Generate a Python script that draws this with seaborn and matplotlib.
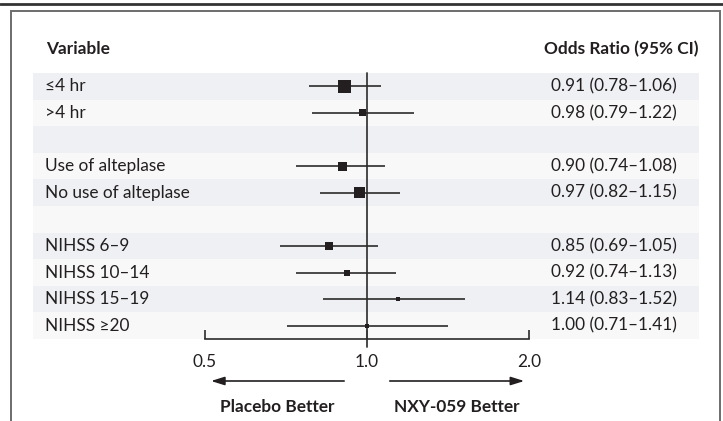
import numpy as np
import pandas as pd
import matplotlib
matplotlib.use("Agg")
import matplotlib.pyplot as plt
from matplotlib.patches import Rectangle
from matplotlib.lines import Line2D
import matplotlib.transforms as mtransforms
import seaborn as sns

# subgroup labels, grouped (a blank row separates the groups)
groups = [
    ["\u22644 hr", ">4 hr"],
    ["Use of alteplase", "No use of alteplase"],
    ["NIHSS 6\u20139", "NIHSS 10\u201314", "NIHSS 15\u201319", "NIHSS \u226520"],
]
odds_ratio = [0.91, 0.98, 0.90, 0.97, 0.85, 0.92, 1.14, 1.00]
ci_low = [0.78, 0.79, 0.74, 0.82, 0.69, 0.74, 0.83, 0.71]
ci_high = [1.06, 1.22, 1.08, 1.15, 1.05, 1.13, 1.52, 1.41]
# square side in pixels (weight of subgroup)
box_px = [13, 7, 9, 11, 8, 6, 4, 4]
x_ticks = [0.5, 1.0, 2.0]
x_tick_labels = ["0.5", "1.0", "2.0"]

# row index for each subgroup, with one empty row between groups
rows = []
labels = []
r = 0
for g in groups:
    for lab in g:
        rows.append(r)
        labels.append(lab)
        r += 1
    r += 1
n_rows = r - 1

df = pd.DataFrame({
    "label": labels,
    "row": rows,
    "or": odds_ratio,
    "lo": ci_low,
    "hi": ci_high,
    "size": [(p * 0.72) ** 2 for p in box_px],
})

sns.set_style("white")
plt.rcParams["font.family"] = ["Lato", "DejaVu Sans"]
txt = "#231f20"
fs = 12.4

W, H = 723, 421
fig = plt.figure(figsize=(W / 100, H / 100), dpi=100)

# plot area in pixel terms
left_px, right_px = 33, 699
top_px, bot_px = 73, 339
ax = fig.add_axes([left_px / W, 1 - bot_px / H, (right_px - left_px) / W, (bot_px - top_px) / H])

# log scale: 0.5 -> 204 px, 2.0 -> 529 px
ppd = (529 - 204) / 2.0
x1 = 367
ax.set_xscale("log")
ax.set_xlim(2 ** ((left_px - x1) / ppd), 2 ** ((right_px - x1) / ppd))
ax.set_ylim(n_rows - 0.5, -0.5)

# striped background
for i in range(n_rows):
    ax.axhspan(i - 0.5, i + 0.5, color="#eef0f3" if i % 2 == 0 else "#f8f8f8", lw=0, zorder=0)

# reference line at 1.0 (runs a bit below the axis)
ax.axvline(1.0, ymin=-0.03, ymax=1, color="#3a3a3a", lw=1.3, clip_on=False, zorder=2)

# confidence intervals
ax.hlines(df["row"], df["lo"], df["hi"], color="#2b2b2b", lw=1.2, zorder=3)

# point estimates
sns.scatterplot(data=df, x="or", y="row", size="size", sizes={s: s for s in df["size"]},
                marker="s", color="#231f20", edgecolor="none", legend=False, ax=ax, zorder=4)

# labels on the rows
rowtf = mtransforms.blended_transform_factory(ax.transAxes, ax.transData)
for _, d in df.iterrows():
    ax.text(12 / (right_px - left_px), d["row"], d["label"], transform=rowtf,
            ha="left", va="center", fontsize=fs, color=txt)
    ax.text((677 - left_px) / (right_px - left_px), d["row"],
            f"{d['or']:.2f} ({d['lo']:.2f}\u2013{d['hi']:.2f})", transform=rowtf,
            ha="right", va="center", fontsize=fs, color=txt)

# headers
fig.text(46 / W, 1 - 49 / H, "Variable", ha="left", va="center", fontsize=fs, fontweight="bold", color=txt)
fig.text(698 / W, 1 - 49 / H, "Odds Ratio (95% CI)", ha="right", va="center", fontsize=fs,
         fontweight="bold", color=txt)

# x axis as a bracket from 0.5 to 2.0
for s in ["top", "left", "right"]:
    ax.spines[s].set_visible(False)
ax.spines["bottom"].set_bounds(0.5, 2.0)
ax.spines["bottom"].set_color("#2b2b2b")
ax.spines["bottom"].set_linewidth(1.2)
ax.set_xticks(x_ticks)
ax.set_xticklabels(x_tick_labels)
ax.xaxis.set_minor_locator(matplotlib.ticker.NullLocator())
ax.tick_params(axis="x", direction="in", length=6.5, width=1.2, color="#2b2b2b", pad=11,
               labelsize=fs, labelcolor=txt, bottom=True)
ax.set_yticks([])
ax.set_xlabel("")
ax.set_ylabel("")

# direction arrows and captions
bt = mtransforms.blended_transform_factory(ax.transData, ax.transAxes)
arrow_y = (bot_px - 381) / (bot_px - top_px)
ax.annotate("", xy=(0.508, arrow_y), xytext=(0.918, arrow_y), xycoords=bt, textcoords=bt,
            arrowprops=dict(arrowstyle="-|>,head_length=0.8,head_width=0.25", color="#231f20", lw=1.2),
            annotation_clip=False)
ax.annotate("", xy=(1.979, arrow_y), xytext=(1.089, arrow_y), xycoords=bt, textcoords=bt,
            arrowprops=dict(arrowstyle="-|>,head_length=0.8,head_width=0.25", color="#231f20", lw=1.2),
            annotation_clip=False)
cap_y = (bot_px - 407) / (bot_px - top_px)
ax.text(0.681, cap_y, "Placebo Better", transform=bt, ha="center", va="center",
        fontsize=fs, fontweight="bold", color=txt)
ax.text(1.468, cap_y, "NXY-059 Better", transform=bt, ha="center", va="center",
        fontsize=fs, fontweight="bold", color=txt)

# frame lines
fig.add_artist(Line2D([0, 1], [1 - 4 / H, 1 - 4 / H], transform=fig.transFigure, color="#333333", lw=2))
fig.add_artist(Rectangle((11 / W, -0.1), (720 - 11) / W, 1 - 11 / H + 0.1, transform=fig.transFigure,
                         fill=False, edgecolor="#6d6d6d", lw=1.4))

fig.savefig("out.png", dpi=100)
